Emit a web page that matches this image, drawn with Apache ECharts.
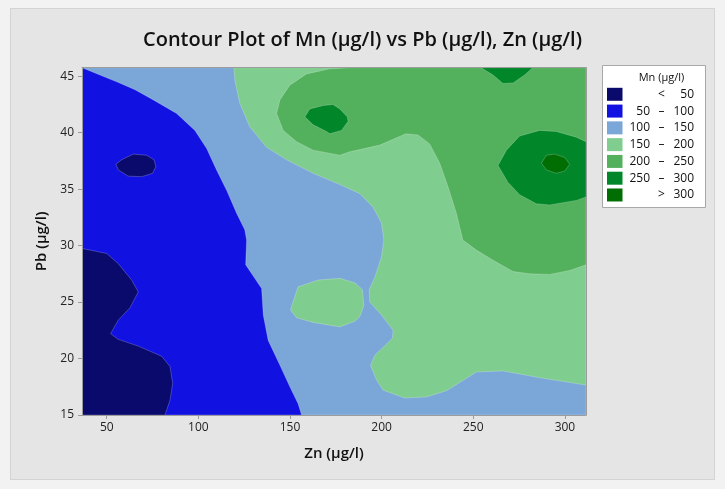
<!DOCTYPE html>
<html><head><meta charset="utf-8">
<script src="https://cdn.jsdelivr.net/npm/echarts@6/dist/echarts.min.js"></script>
<style>
html,body{margin:0;padding:0;background:#f2f2f2;}
#frame{position:absolute;left:10px;top:8px;width:703px;height:470px;background:#e5e5e5;border:1px solid #d3d3d3;}
#chart{position:absolute;left:0;top:0;width:725px;height:489px;}
</style></head><body>
<div id="frame"></div><div id="chart"></div>
<script>
// ---- data (Zn, Pb) ----
const znRange = [36.5, 311.5];
const pbRange = [15, 45.75];
const xTicks = [50, 100, 150, 200, 250, 300];
const yTicks = [15, 20, 25, 30, 35, 40, 45];
const bandLow  = [null, 50, 100, 150, 200, 250, 300];
const bandHigh = [50, 100, 150, 200, 250, 300, null];
const bandColors = ['#0a0a6c', '#1111e2', '#7ba6d8', '#80cd90', '#53b05c', '#01862a', '#016e03'];

// contour regions (Zn, Pb) for Mn bands
const field100_150 = [[36.5,15],[311.5,15],[311.5,45.75],[36.5,45.75]];
const zone50_100 = [[36.5,45.75],[55.4,44.5],[65.4,43.8],[75.4,42.9],[88.1,41.7],[98.1,40.2],[104.5,38.6],[109.9,36.7],[115.4,34.9],[120.9,32.85],[125.3,31.4],[126.3,30.5],[125.8,28.3],[134.5,26.2],[135.4,23.85],[138.1,21.6],[144.5,19.4],[149.9,17.5],[154.4,16.0],[156.3,15],[36.5,15]];
const zoneLt50_a = [[36.5,29.75],[50.0,29.3],[56.3,28.4],[63.6,26.95],[67.2,25.9],[62.7,24.5],[56.3,23.4],[52.1,22.2],[56.3,21.7],[67.2,21.1],[80.0,20.2],[84.5,19.3],[86.0,17.8],[84.5,16.3],[81.8,15],[36.5,15]];
const zoneLt50_b = [[55.0,37.2],[58.1,37.6],[64.5,38.1],[71.8,38.0],[75.8,37.6],[76.8,37.0],[75.0,36.4],[69.1,36.1],[61.7,36.15],[56.3,36.7]];
const zone150_200_a = [[119.4,45.75],[119.9,44.6],[122.6,42.6],[128.1,40.5],[137.2,38.7],[148.1,37.6],[162.6,36.4],[177.2,35.4],[188.1,34.6],[195.3,33.4],[199.9,32.0],[201.2,30.5],[199.9,29.0],[196.3,27.2],[193.2,26.1],[193.5,25.0],[199.9,23.85],[206.2,22.5],[205.9,21.8],[196.3,20.3],[193.9,19.4],[197.2,18.1],[200.8,17.2],[212.6,16.5],[224.5,16.6],[235.4,17.15],[251.7,18.8],[266.2,18.9],[288.0,18.25],[311.5,17.65],[311.5,45.75]];
const zone150_200_b = [[150.3,24.3],[150.8,24.6],[154.4,26.35],[165.3,26.95],[177.2,27.1],[185.4,26.7],[189.5,26.1],[190.3,24.7],[188.1,23.7],[185.4,23.3],[177.2,22.8],[162.6,23.2],[153.6,23.6]];
const zone200_250 = [[142.7,41.7],[144.5,42.9],[149.9,44.2],[159.0,45.2],[171.7,45.65],[183.0,45.75],[311.5,45.75],[311.5,28.3],[302.6,27.8],[291.7,27.45],[280.8,27.5],[271.7,27.7],[260.8,28.7],[251.7,29.6],[244.3,30.5],[240.8,32.85],[236.2,35.2],[231.7,37.3],[226.2,39.0],[219.9,39.8],[213.2,39.9],[199.0,38.9],[182.6,38.3],[177.2,38.0],[162.6,38.45],[153.6,39.2],[146.3,40.2]];
const zone250_300_a = [[158.1,41.4],[160.8,42.1],[168.1,42.4],[173.4,42.5],[177.2,42.1],[181.2,41.4],[181.7,41.0],[178.1,40.2],[171.7,39.9],[169.9,40.1],[162.6,40.7]];
const zone250_300_b = [[254.3,45.75],[260.8,45.1],[266.2,44.35],[271.7,44.4],[278.0,45.1],[282.4,45.75]];
const zone250_300_c = [[263.5,37.1],[268.1,38.45],[275.3,39.7],[286.2,40.2],[295.3,40.1],[306.2,39.6],[311.5,39.2],[311.5,34.3],[306.2,34.0],[291.7,33.6],[284.4,33.7],[275.3,34.5],[268.9,35.6]];
const zoneGt300 = [[287.2,37.3],[289.9,38.0],[294.4,38.1],[299.9,37.8],[302.6,37.2],[299.9,36.6],[295.3,36.4],[289.9,36.7]];

const layers = [
  {band: 2, pts: field100_150},
  {band: 1, pts: zone50_100},
  {band: 0, pts: zoneLt50_a},
  {band: 0, pts: zoneLt50_b},
  {band: 3, pts: zone150_200_a},
  {band: 3, pts: zone150_200_b},
  {band: 4, pts: zone200_250},
  {band: 5, pts: zone250_300_a},
  {band: 5, pts: zone250_300_b},
  {band: 5, pts: zone250_300_c},
  {band: 6, pts: zoneGt300}
];

const FONT = 'Open Sans';
const chart = echarts.init(document.getElementById('chart'), null, {renderer: 'canvas'});

// legend built as graphic elements
const legendEls = [
  {type: 'rect', shape: {x: 602.5, y: 65.5, width: 103, height: 142}, style: {fill: '#ffffff', stroke: '#a8a8a8', lineWidth: 1}},
  {type: 'text', x: 661.5, y: 78, style: {text: 'Mn (µg/l)', align: 'center', verticalAlign: 'middle', fontSize: 11, fill: '#111', fontFamily: FONT}}
];
bandColors.forEach((c, i) => {
  const yc = 94.3 + i * 16.78;
  legendEls.push({type: 'rect', shape: {x: 607, y: yc - 6.5, width: 15.5, height: 13}, style: {fill: c}});
  const ts = (t, x, al) => ({type: 'text', x: x, y: yc, style: {text: t, align: al, verticalAlign: 'middle', fontSize: 12, fill: '#111', fontFamily: FONT}});
  if (bandLow[i] === null) {
    legendEls.push(ts('<', 661.5, 'center'), ts(String(bandHigh[i]), 694, 'right'));
  } else if (bandHigh[i] === null) {
    legendEls.push(ts('>', 661.5, 'center'), ts(String(bandLow[i]), 694, 'right'));
  } else {
    legendEls.push(ts(String(bandLow[i]), 650, 'right'), ts('–', 661.5, 'center'), ts(String(bandHigh[i]), 694, 'right'));
  }
});

const axisCol = '#9c9c9c';
const labelStyle = {fontSize: 12, color: '#222', fontFamily: FONT};
const nameStyle = {fontSize: 15, color: '#111', fontFamily: FONT, fontWeight: 600};

const option = {
  animation: false,
  backgroundColor: 'transparent',
  title: {
    text: 'Contour Plot of Mn (µg/l) vs Pb (µg/l), Zn (µg/l)',
    left: 'center', top: 25,
    textStyle: {fontFamily: FONT, fontSize: 20, fontWeight: 600, color: '#111'}
  },
  grid: {left: 82, right: 139, top: 67.7, bottom: 74, containLabel: false, outerBoundsMode: 'none'},
  xAxis: [{
    type: 'value', min: znRange[0], max: znRange[1],
    name: 'Zn (µg/l)', nameLocation: 'middle', nameGap: 31, nameTextStyle: nameStyle,
    axisLine: {show: true, onZero: false, lineStyle: {color: axisCol}},
    axisTick: {show: true, length: 4, customValues: xTicks, lineStyle: {color: axisCol}},
    axisLabel: Object.assign({customValues: xTicks, margin: 7}, labelStyle),
    splitLine: {show: false}, z: 10
  }, {
    type: 'value', position: 'top', min: znRange[0], max: znRange[1],
    axisLine: {show: true, onZero: false, lineStyle: {color: axisCol}},
    axisTick: {show: false}, axisLabel: {show: false}, splitLine: {show: false}, z: 10
  }],
  yAxis: [{
    type: 'value', min: pbRange[0], max: pbRange[1],
    name: 'Pb (µg/l)', nameLocation: 'middle', nameGap: 30, nameTextStyle: nameStyle,
    axisLine: {show: true, onZero: false, lineStyle: {color: axisCol}},
    axisTick: {show: true, length: 4, customValues: yTicks, lineStyle: {color: axisCol}},
    axisLabel: Object.assign({customValues: yTicks, margin: 8}, labelStyle),
    splitLine: {show: false}, z: 10
  }, {
    type: 'value', position: 'right', min: pbRange[0], max: pbRange[1],
    axisLine: {show: true, onZero: false, lineStyle: {color: axisCol}},
    axisTick: {show: false}, axisLabel: {show: false}, splitLine: {show: false}, z: 10
  }],
  graphic: {elements: legendEls},
  series: [{
    type: 'custom',
    xAxisIndex: 0, yAxisIndex: 0,
    clip: true,
    data: layers.map(L => L.pts[0]),
    renderItem: function (params, api) {
      const L = layers[params.dataIndex];
      const pts = L.pts.map(p => api.coord(p));
      return {
        type: 'polygon',
        shape: {points: pts},
        style: {fill: bandColors[L.band], stroke: 'rgba(255,255,255,0.28)', lineWidth: 0.8}
      };
    }
  }]
};
chart.setOption(option);
</script></body></html>
